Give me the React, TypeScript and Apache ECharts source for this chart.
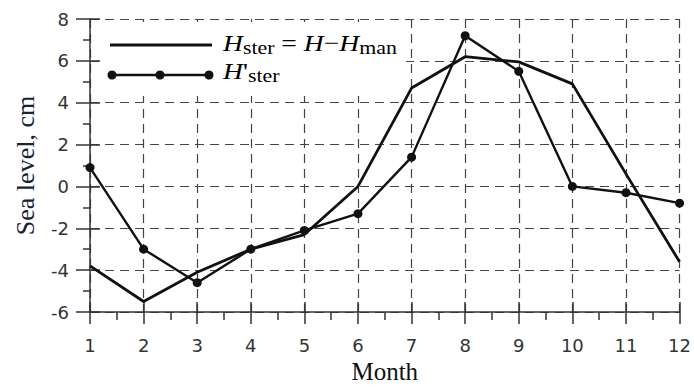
import React, { useEffect, useRef } from "react";
import * as echarts from "echarts";

const months = [1, 2, 3, 4, 5, 6, 7, 8, 9, 10, 11, 12];
const hSter = [-3.8, -5.5, -4.1, -3.0, -2.3, 0.0, 4.7, 6.2, 5.95, 4.9, 0.6, -3.6];
const hSterPrime = [0.9, -3.0, -4.6, -3.0, -2.1, -1.3, 1.4, 7.2, 5.5, 0.0, -0.3, -0.8];
const yMin = -6;
const yMax = 8;
const yStep = 2;

const serif = "'Liberation Serif', 'Times New Roman', serif";
const sans = "'DejaVu Sans', 'Liberation Sans', Arial, sans-serif";

export default function App() {
  const ref = useRef<HTMLDivElement>(null);
  useEffect(() => {
    if (!ref.current) return;
    const chart = echarts.init(ref.current, undefined, { renderer: "svg" });
    const dash = [9, 6];
    const gridColor = "#444";
    const axisColor = "#333";
    const richMain = {
      H: { fontFamily: serif, fontStyle: "italic", fontSize: 24, lineHeight: 28, color: "#111" },
      s: { fontFamily: serif, fontSize: 19, lineHeight: 16, verticalAlign: "bottom", color: "#111" },
      n: { fontFamily: serif, fontSize: 24, lineHeight: 28, color: "#111" },
    };
    chart.setOption({
      animation: false,
      grid: { left: 90, right: 12, top: 19, bottom: 74, containLabel: false },
      xAxis: [
        {
          type: "value",
          position: "bottom",
          min: 1,
          max: 12,
          interval: 1,
          name: "Month",
          nameLocation: "middle",
          nameGap: 47,
          nameTextStyle: { fontFamily: serif, fontSize: 25, color: "#111" },
          axisLine: { show: true, onZero: false, lineStyle: { color: axisColor, width: 1.5 } },
          axisTick: { show: true, inside: false, length: 12, lineStyle: { color: axisColor, width: 1.5 } },
          minorTick: { show: true, splitNumber: 2, length: 8, lineStyle: { color: axisColor, width: 1.5 } },
          axisLabel: { fontFamily: sans, fontSize: 18, color: "#333", margin: 24 },
          splitLine: { show: true, lineStyle: { color: gridColor, type: dash, width: 1.2 } },
        },
        {
          type: "value",
          position: "bottom",
          min: 1,
          max: 12,
          interval: 1,
          axisLine: { show: false, onZero: false },
          axisTick: { show: true, inside: true, length: 10, lineStyle: { color: axisColor, width: 1.5 } },
          axisLabel: { show: false },
          splitLine: { show: false },
        },
      ],
      yAxis: [
        {
          type: "value",
          position: "left",
          min: yMin,
          max: yMax,
          interval: yStep,
          name: "Sea level, cm",
          nameLocation: "middle",
          nameGap: 52,
          nameTextStyle: { fontFamily: serif, fontSize: 26, color: "#1b2238" },
          axisLine: { show: true, onZero: false, lineStyle: { color: axisColor, width: 1.5 } },
          axisTick: { show: true, inside: false, length: 14, lineStyle: { color: axisColor, width: 1.5 } },
          minorTick: { show: true, splitNumber: 2, length: 7, lineStyle: { color: axisColor, width: 1.5 } },
          axisLabel: { fontFamily: sans, fontSize: 18, color: "#333", margin: 21 },
          splitLine: { show: true, lineStyle: { color: gridColor, type: dash, width: 1.2 } },
        },
        {
          type: "value",
          position: "left",
          min: yMin,
          max: yMax,
          interval: yStep,
          axisLine: { show: false, onZero: false },
          axisTick: { show: true, inside: true, length: 10, lineStyle: { color: axisColor, width: 1.5 } },
          axisLabel: { show: false },
          splitLine: { show: false },
        },
      ],
      graphic: [
        { type: "rect", z: 1, shape: { x: 101, y: 22, width: 305, height: 74 }, style: { fill: "#fff" } },
        { type: "line", z: 3, shape: { x1: 110, y1: 45, x2: 212, y2: 45 }, style: { stroke: "#111", lineWidth: 2.8 } },
        { type: "line", z: 3, shape: { x1: 112, y1: 75, x2: 209, y2: 75 }, style: { stroke: "#111", lineWidth: 2.3 } },
        { type: "circle", z: 3, shape: { cx: 112, cy: 75, r: 4.5 }, style: { fill: "#111" } },
        { type: "circle", z: 3, shape: { cx: 160, cy: 75, r: 4.5 }, style: { fill: "#111" } },
        { type: "circle", z: 3, shape: { cx: 209, cy: 75, r: 4.5 }, style: { fill: "#111" } },
        {
          type: "text",
          z: 3,
          x: 223,
          y: 29,
          scaleX: 1.15,
          style: {
            text: "{H|H}{s|ster}{n| = }{H|H}{n|\u2212}{H|H}{s|man}",
            rich: richMain,
            align: "left",
            verticalAlign: "top",
          },
        },
        {
          type: "text",
          z: 3,
          x: 223,
          y: 57,
          scaleX: 1.15,
          style: {
            text: "{H|H}{n|'}{s|ster}",
            rich: richMain,
            align: "left",
            verticalAlign: "top",
          },
        },
      ],
      series: [
        {
          type: "line",
          name: "Hster",
          xAxisIndex: 0,
          yAxisIndex: 0,
          data: months.map((m, i) => [m, hSter[i]]),
          showSymbol: false,
          symbol: "none",
          lineStyle: { color: "#111", width: 2.8 },
          z: 4,
        },
        {
          type: "line",
          name: "Hster'",
          xAxisIndex: 0,
          yAxisIndex: 0,
          data: months.map((m, i) => [m, hSterPrime[i]]),
          symbol: "circle",
          symbolSize: 9,
          itemStyle: { color: "#111" },
          lineStyle: { color: "#111", width: 2.4 },
          z: 5,
        },
      ],
    });
    return () => chart.dispose();
  }, []);
  return <div ref={ref} style={{ width: 694, height: 389, position: "absolute", left: 0, top: 0 }} />;
}
